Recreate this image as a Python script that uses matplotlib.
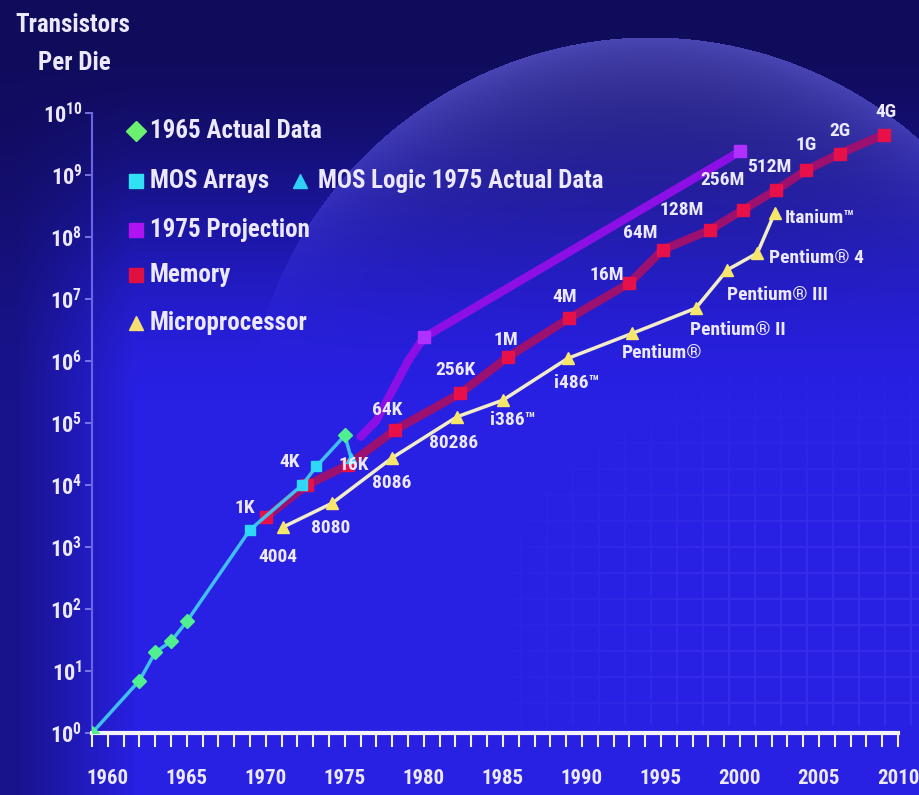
import numpy as np
import matplotlib.pyplot as plt
from matplotlib import font_manager

# transistor counts per die, read as (year, count)
moore_years = [1959, 1962, 1963, 1964, 1965]
moore_counts = [1, 7, 20, 30, 63]

mos_array_years = [1969, 1972.3, 1973.2]
mos_array_counts = [1900, 10000, 20000]

mos_1975_year = 1975.0
mos_1975_count = 63000
mos_logic_year = 1975.4
mos_logic_count = 27000

proj_years = [1976, 1977, 1979, 1980, 2000]
proj_counts = [6.0e4, 1.1e5, 1.0e6, 2.4e6, 2.4e9]

memory_years = [1970.0, 1972.6, 1975.2, 1978.2, 1982.3, 1985.3, 1989.2, 1993.0,
                1995.1, 1998.1, 2000.2, 2002.3, 2004.2, 2006.3, 2009.1]
memory_counts = [3.0e3, 1.0e4, 2.1e4, 7.8e4, 3.0e5, 1.15e6, 4.9e6, 1.8e7,
                 6.2e7, 1.3e8, 2.75e8, 5.75e8, 1.2e9, 2.2e9, 4.5e9]
memory_labels = ['1K', '4K', '16K', '64K', '256K', '1M', '4M', '16M', '64M',
                 '128M', '256M', '512M', '1G', '2G', '4G']

cpu_years = [1971.1, 1974.2, 1978.0, 1982.1, 1985.0, 1989.1, 1993.2, 1997.2,
             1999.2, 2001.1, 2002.2]
cpu_counts = [2100, 5100, 27500, 1.26e5, 2.34e5, 1.1e6, 2.8e6, 7.1e6,
              2.95e7, 5.5e7, 2.45e8]
cpu_labels = ['4004', '8080', '8086', '80286', 'i386\u2122', 'i486\u2122',
              'Pentium\u00ae', 'Pentium\u00ae II', 'Pentium\u00ae III',
              'Pentium\u00ae 4', 'Itanium\u2122']

year_ticks = list(range(1960, 2011, 5))

# prefer a narrow bold face if one is installed
fonts = font_manager.fontManager.ttflist
names = {f.name for f in fonts}
family, stretch, k = 'Liberation Sans', 'normal', 0.9
for n in ('Liberation Sans Narrow', 'Arial Narrow', 'Roboto Condensed', 'Open Sans Condensed'):
    if n in names:
        family, k = n, 1.0
        break
else:
    if any(f.name == 'DejaVu Sans' and 'condensed' in str(f.stretch) for f in fonts):
        family, stretch, k = 'DejaVu Sans', 'condensed', 0.95
plt.rcParams['font.family'] = [family, 'DejaVu Sans']
plt.rcParams['font.stretch'] = stretch
plt.rcParams['font.weight'] = 'bold'

W, H = 920, 795
fig = plt.figure(figsize=(W / 100, H / 100), dpi=100)

# background: navy frame fading into bright blue, with a pale globe rim in the top right
yy, xx = np.mgrid[0:H, 0:W].astype(float)
bright = np.array([40, 32, 226]) / 255
dark = np.array([16, 12, 92]) / 255
tv = np.clip((yy - 40) / 360, 0, 1)
tv = tv * tv * (3 - 2 * tv)
th = np.clip((xx - 15) / 120, 0, 1)
mix = (tv * (0.35 + 0.65 * th))[..., None]
img = dark * (1 - mix) + bright * mix
d = np.hypot(xx - 650, yy - 442)
inside = (d < 405).astype(float)
rim = np.exp(-(405 - d) / 70) * inside
haze = (0.5 * rim + 0.22 * inside) * (1 - tv) ** 1.5
img = img + haze[..., None] * (np.array([80, 80, 120]) / 255)
# faint tiled grid in the lower right
grid = ((xx % 26 < 2) | (yy % 26 < 2)).astype(float)
gmask = np.clip((xx - 440) / 300, 0, 1) * np.clip((yy - 360) / 200, 0, 1) * (yy < 725)
img = img + (grid * gmask)[..., None] * np.array([0.05, 0.05, 0.03])
img = np.clip(img, 0, 1)

bg = fig.add_axes([0, 0, 1, 1])
bg.imshow(img, aspect='auto', extent=[0, W, H, 0])
bg.axis('off')

ax = fig.add_axes([92 / W, 62 / H, (898 - 92) / W, 620 / H])
ax.set_facecolor('none')
ax.set_yscale('log')
ax.set_xlim(1959, 2010)
ax.set_ylim(1, 1e10)

txt = '#ebe8ff'

# 1975 projection
ax.plot(proj_years, proj_counts, color='#8c10e6', lw=6, solid_capstyle='round', zorder=2)
ax.plot(proj_years[-2:], proj_counts[-2:], ls='none', marker='s', ms=9,
        color='#b030ff', zorder=2)

# memory
ax.plot(memory_years, memory_counts, color='#9c1070', lw=6, zorder=3)
ax.plot(memory_years, memory_counts, ls='none', marker='s', ms=9,
        color='#e81048', zorder=3)

# microprocessors
ax.plot(cpu_years, cpu_counts, color='#f2ecc8', lw=2.5, zorder=4)
ax.plot(cpu_years, cpu_counts, ls='none', marker='^', ms=8, color='#f6e66a', zorder=4)

# MOS arrays line, from Moore's 1965 data to 1975
cyan_x = moore_years + mos_array_years + [mos_1975_year, mos_logic_year]
cyan_y = moore_counts + mos_array_counts + [mos_1975_count, mos_logic_count]
ax.plot(cyan_x, cyan_y, color='#40bff0', lw=2.5, zorder=5)
ax.plot(moore_years + [mos_1975_year], moore_counts + [mos_1975_count],
        ls='none', marker='D', ms=7, color='#50f090', zorder=6)
ax.plot(mos_array_years, mos_array_counts, ls='none', marker='s', ms=7,
        color='#30d8f8', zorder=6)
ax.plot([mos_logic_year], [mos_logic_count], ls='none', marker='^', ms=7,
        color='#30d8f8', zorder=6)

# point labels, offsets in pixels
mem_off = [(-21, 9), (-17, 23), (6, 0), (-8, 20), (-5, 23), (-2, 17), (-5, 21),
           (-23, 8), (-22, 17), (-28, 20), (-21, 30), (-7, 23), (0, 25), (0, 23), (2, 23)]
for x, y, s, (dx, dy) in zip(memory_years, memory_counts, memory_labels, mem_off):
    ax.annotate(s, (x, y), xytext=(dx * 0.72, dy * 0.72), textcoords='offset points',
                ha='center', va='center', color=txt, fontsize=14 * k, zorder=7)

cpu_off = [(-5, -30), (-2, -25), (-1, -25), (-4, -26), (10, -20), (9, -25),
           (30, -20), (42, -22), (50, -25), (59, -5), (45, -5)]
for x, y, s, (dx, dy) in zip(cpu_years, cpu_counts, cpu_labels, cpu_off):
    ax.annotate(s, (x, y), xytext=(dx * 0.72, dy * 0.72), textcoords='offset points',
                ha='center', va='center', color=txt, fontsize=14 * k, zorder=7)

# axes styling
for side in ('top', 'right'):
    ax.spines[side].set_visible(False)
ax.spines['left'].set_color('#6a64e8')
ax.spines['left'].set_linewidth(1.5)
ax.spines['bottom'].set_color('#f4f2ff')
ax.spines['bottom'].set_linewidth(3)

ax.set_xticks(year_ticks)
ax.set_xticklabels([str(y) for y in year_ticks])
ax.set_xticks(range(1959, 2011), minor=True)
ax.tick_params(axis='x', which='both', direction='out', length=10, width=1.5,
               color='#f4f2ff', labelcolor=txt, labelsize=15 * k, pad=16)
ax.set_yticks([10.0 ** p for p in range(11)])
ax.yaxis.set_minor_locator(plt.NullLocator())
ax.tick_params(axis='y', direction='out', length=5, width=1.2, color='#8a84f0',
               labelcolor=txt, labelsize=16 * k, pad=2)

fig.text(73 / W, 1 - 25 / H, 'Transistors', ha='center', va='center', color=txt,
         fontsize=18 * k)
fig.text(74 / W, 1 - 63 / H, 'Per Die', ha='center', va='center', color=txt,
         fontsize=18 * k)

# legend
rows = [
    (131, 'D', '#6cf070', '1965 Actual Data'),
    (181, 's', '#30e0f4', 'MOS Arrays'),
    (230, 's', '#b012f0', '1975 Projection'),
    (275, 's', '#e01040', 'Memory'),
    (323, '^', '#f4e070', 'Microprocessor'),
]
for py, m, c, s in rows:
    fig.add_artist(plt.Line2D([136 / W], [1 - py / H], marker=m, ms=10, color=c,
                              ls='none', transform=fig.transFigure))
    fig.text(150 / W, 1 - py / H, s, ha='left', va='center', color=txt, fontsize=18 * k)
fig.add_artist(plt.Line2D([300 / W], [1 - 181 / H], marker='^', ms=10, color='#30d0f4',
                          ls='none', transform=fig.transFigure))
fig.text(318 / W, 1 - 181 / H, 'MOS Logic 1975 Actual Data', ha='left', va='center',
         color=txt, fontsize=18 * k)

fig.savefig('out.png', dpi=100)
